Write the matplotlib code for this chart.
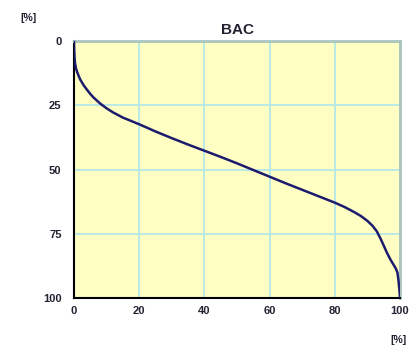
import matplotlib
matplotlib.use("Agg")
import matplotlib.pyplot as plt
from matplotlib import font_manager

x_vals = [0, 0.05, 0.15, 0.3, 0.6, 1.0, 1.5, 2.0, 3.0, 4.0, 5.0, 6.0, 8.0, 10, 12, 15, 20, 25, 30, 35, 40, 45, 50, 55, 60, 65, 70, 75, 80, 83, 86, 88, 90, 91.5, 92.8, 94, 95, 96, 97, 98, 98.7, 99.2, 99.5, 99.8, 100]
y_vals = [0, 3, 6, 8.5, 10.6, 12.2, 13.8, 15.2, 17.3, 19.0, 20.6, 22.0, 24.3, 26.2, 27.8, 29.8, 32.4, 35.2, 37.8, 40.3, 42.7, 45.1, 47.6, 50.2, 52.8, 55.4, 57.9, 60.4, 62.9, 64.6, 66.6, 68.1, 70.0, 71.8, 73.9, 76.8, 79.6, 82.4, 84.9, 87.0, 88.5, 90.0, 92.8, 96.5, 100]
x_ticks = [0, 20, 40, 60, 80, 100]
y_ticks = [0, 25, 50, 75, 100]
title = "BAC"
unit = "[%]"

names = {f.name for f in font_manager.fontManager.ttflist}
fam = ["Liberation Sans Narrow"] if "Liberation Sans Narrow" in names else ["Liberation Sans"]
plt.rcParams['font.family'] = fam + ["DejaVu Sans"]

fig = plt.figure(figsize=(4.11, 3.51), dpi=100)
ax = fig.add_axes([74/411, 1-298/351, 326/411, 257/351])
ax.set_facecolor("#ffffc4")
ax.plot(x_vals, y_vals, color="#1c1c6e", lw=1.8, zorder=3, solid_joinstyle="round")
ax.set_xlim(0, 100)
ax.set_ylim(100, 0)
ax.set_xticks(x_ticks)
ax.set_yticks(y_ticks)
ax.grid(True, color="#b4e8e8", lw=1.3, zorder=1)
ax.tick_params(length=0, labelsize=8, colors="#222233", pad=6)
ax.tick_params(axis='y', pad=9)
for lbl in ax.get_xticklabels() + ax.get_yticklabels():
    lbl.set_fontweight("bold")
for s in ["left", "bottom"]:
    ax.spines[s].set_color("black")
    ax.spines[s].set_linewidth(1.5)
for s in ["top", "right"]:
    ax.spines[s].set_color("#a8c4bc")
    ax.spines[s].set_linewidth(2)
ax.set_title(title, fontsize=11, color="#222233", pad=5, fontweight="bold")
fig.text(20/411, 1-18/351, unit, fontsize=7.5, color="#222233", ha="left", va="center", fontweight="bold")
fig.text(398/411, 1-340/351, unit, fontsize=7.5, color="#222233", ha="center", va="center", fontweight="bold")
fig.savefig("out.png", dpi=100, facecolor="white")
